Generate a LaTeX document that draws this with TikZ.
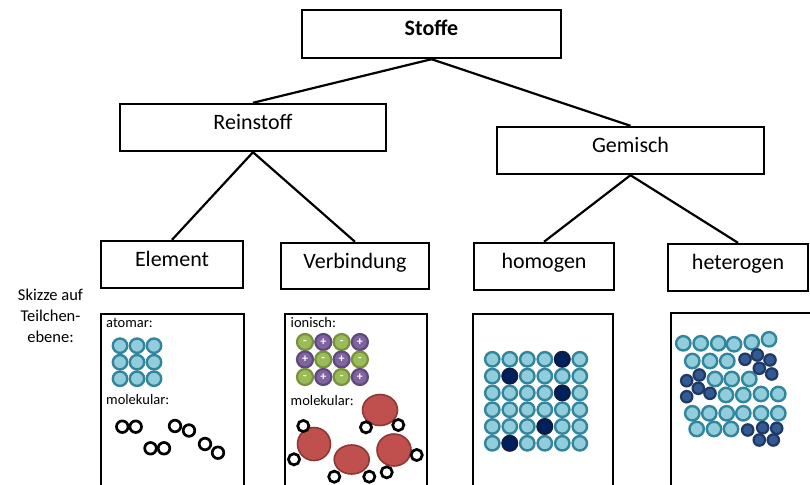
\documentclass[tikz,border=0pt]{standalone}
\usepackage{fontspec}
\setmainfont{Carlito}
\definecolor{aquaF}{RGB}{146,205,220}
\definecolor{aquaD}{RGB}{49,133,156}
\definecolor{navyF}{RGB}{0,32,96}
\definecolor{navyD}{RGB}{12,28,66}
\definecolor{dblueF}{RGB}{52,90,148}
\definecolor{dblueD}{RGB}{31,56,100}
\definecolor{grF}{RGB}{155,187,89}
\definecolor{grD}{RGB}{118,146,60}
\definecolor{puF}{RGB}{128,100,162}
\definecolor{puD}{RGB}{95,73,122}
\definecolor{redF}{RGB}{192,80,77}
\definecolor{redD}{RGB}{140,56,54}
\begin{document}
\begin{tikzpicture}[x=1pt,y=-1pt,
  tbox/.style={draw, line width=2.4pt, inner sep=0pt, text height=14pt, text depth=10pt, font=\fontsize{22}{26}\selectfont},
  conn/.style={line width=2.2pt},
  skbox/.style={draw, line width=2.4pt, anchor=north west, inner sep=0pt, minimum height=200pt},
  small/.style={anchor=base west, inner sep=0pt, font=\fontsize{14.5}{17}\selectfont},
  aq/.style={draw=aquaD, fill=aquaF, line width=2.4pt},
  nv/.style={draw=navyD, fill=navyF, line width=2.4pt},
  db/.style={draw=dblueD, fill=dblueF, line width=2.2pt},
  hatom/.style={draw=black, fill=white, line width=2.7pt},
  red/.style={draw=redD, fill=redF, line width=1.6pt},
  sign/.style={inner sep=0pt, text=white, font=\fontsize{12}{12}\selectfont\bfseries}
]
\useasboundingbox (0,0) rectangle (810,484);
\clip (0,0) rectangle (810,484);
\fill[white] (0,0) rectangle (810,484);

% tree boxes
\node[tbox, minimum width=259pt, minimum height=48pt] (stoffe) at (431.5,34) {\bfseries Stoffe};
\node[tbox, minimum width=266pt, minimum height=47pt] (rein) at (253,127.5) {Reinstoff};
\node[tbox, minimum width=267pt, minimum height=47pt] (gem) at (630.5,150.5) {Gemisch};
\node[tbox, minimum width=142pt, minimum height=47pt] (elem) at (172,264.5) {Element};
\node[tbox, minimum width=148pt, minimum height=46pt] (verb) at (355,266) {Verbindung};
\node[tbox, minimum width=140pt, minimum height=47pt] (homo) at (544,266.5) {homogen};
\node[tbox, minimum width=140pt, minimum height=47pt] (hete) at (738,267.5) {heterogen};

\draw[conn] (stoffe.south) -- (rein.north);
\draw[conn] (stoffe.south) -- (gem.north);
\draw[conn] (rein.south) -- (elem.north);
\draw[conn] (rein.south) -- (verb.north);
\draw[conn] (gem.south) -- (homo.north);
\draw[conn] (gem.south) -- (hete.north);

% side label
\node[align=center, inner sep=0pt, font=\fontsize{16.5}{21}\selectfont, anchor=base] (skizze) at (50.5,342) {Skizze auf\\Teilchen-\\ebene:};

% sketch boxes
\node[skbox, minimum width=143pt] (sk1) at (100,313) {};
\node[skbox, minimum width=142pt] (sk2) at (284,313) {};
\node[skbox, minimum width=140pt] (sk3) at (472,313) {};
\node[skbox, minimum width=170pt] (sk4) at (670,312) {};

% Element sketch
\node[small] (atomar) at (106,327) {atomar:};
\foreach \i in {0,1,2}
  \foreach \j in {0,1,2}
    \draw[aq] (120+17*\i, 345.7+16.5*\j) circle (7.2);
\node[small] (molek1) at (106,404) {molekular:};
\foreach \x/\y in {122.3/426.7, 135.7/426.7, 175/426, 189/430.5, 150.5/448.3, 164/448.3, 205/444, 218/452.7}
  \draw[hatom] (\x,\y) circle (5.8);

% Verbindung sketch
\node[small] (ionisch) at (290.5,327) {ionisch:};
\foreach \i in {0,1,2,3}
  \foreach \j in {0,1,2} {
    \pgfmathtruncatemacro{\ionpar}{mod(\i+\j,2)}
    \ifnum\ionpar=0
      \draw[draw=grD, fill=grF, line width=2.2pt] (305+18.3*\i, 342+17.5*\j) circle (8);
      \node[sign] (ion-\i-\j) at (305+18.3*\i, 342+17.5*\j) {-};
    \else
      \draw[draw=puD, fill=puF, line width=2.2pt] (305+18.3*\i, 342+17.5*\j) circle (8);
      \node[sign] (ion-\i-\j) at (305+18.3*\i, 342+17.5*\j) {+};
    \fi
  }
\node[small] (molek2) at (290.5,405) {molekular:};
\draw[red] (380,410) ellipse (17.5 and 15.5);
\draw[red] (314,444) ellipse (16.5 and 16.5);
\draw[red] (351.7,459.5) ellipse (17.5 and 14.5);
\draw[red] (394,450) ellipse (17 and 16);
\foreach \x/\y in {366/427.3, 398.3/425, 303.3/426, 294/459.3, 334.3/476.7, 369.3/476.7, 416.7/455, 386.7/472.3}
  \draw[hatom] (\x,\y) circle (5.6);

% homogen sketch
\foreach \i in {0,...,5}
  \foreach \j in {0,...,5}
    \draw[aq] (492.3+17.5*\i, 359.3+16.8*\j) circle (7.2);
\foreach \i/\j in {4/0, 1/1, 4/2, 3/4, 1/5}
  \draw[nv] (492.3+17.5*\i, 359.3+16.8*\j) circle (7.2);

% heterogen sketch
\foreach \x/\y in {683.3/343.3, 700.7/343.3, 718.3/343.3, 734/344.3, 751.7/342.3, 769/339.3,
                   692.3/361, 710/361, 727.3/361,
                   715/379, 731.7/379, 749.3/379,
                   726/395, 743.3/395, 761/394, 778.3/394,
                   692.3/413.3, 709.3/413.3, 726.7/413.3, 743.3/413.3, 761/413.3, 778.3/413.3,
                   696.7/429, 714/429, 731/429}
  \draw[aq] (\x,\y) circle (7.2);
\foreach \x/\y in {745/359.3, 757.3/355, 770/360, 759.3/368.3, 771.7/374,
                   699.3/375, 686.7/380.7, 698.3/388.3, 710/393.3, 686.7/396.7,
                   747.7/430, 762.7/427.7, 776.7/428.3, 759.3/440, 773.3/440}
  \draw[db] (\x,\y) circle (5.7);
\end{tikzpicture}
\end{document}
